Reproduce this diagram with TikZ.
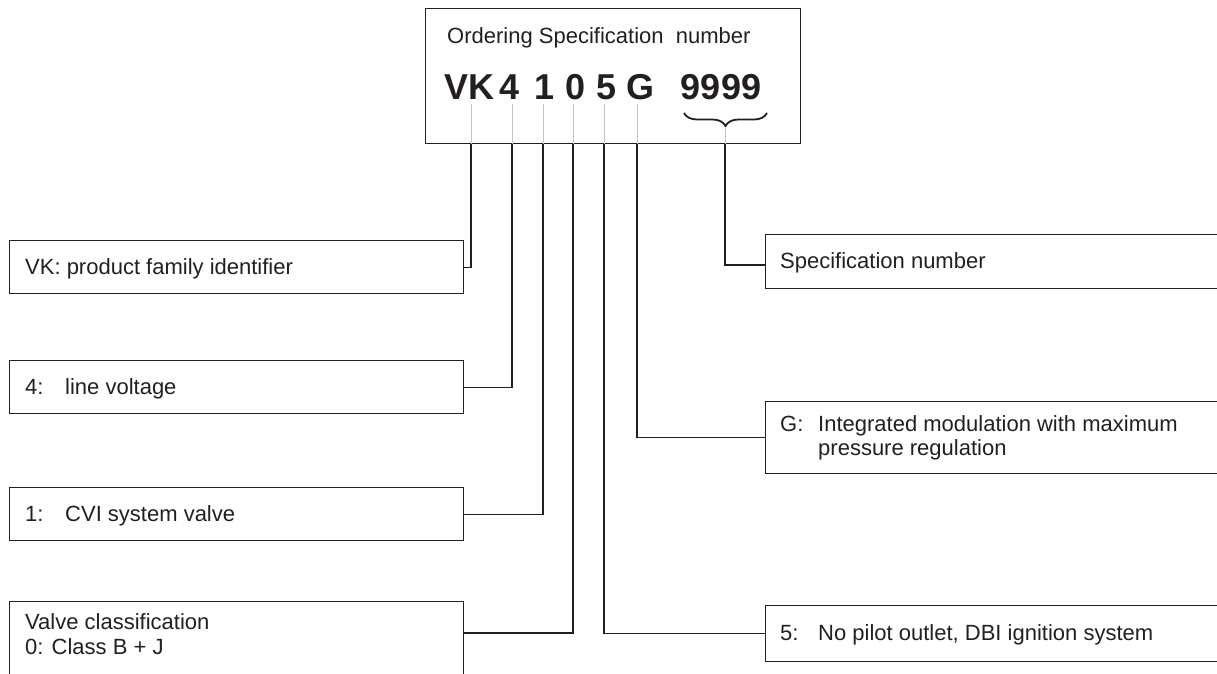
\documentclass[tikz,border=0pt]{standalone}
\usepackage{fontspec}
\setmainfont{Liberation Sans}
\usetikzlibrary{decorations.pathreplacing,calc}
\definecolor{ink}{HTML}{231F20}
\definecolor{leadc}{HTML}{C4C4C4}
\begin{document}
\begin{tikzpicture}[x=1pt,y=-1pt,
  box/.style={draw=ink, line width=1.3pt, inner sep=0pt, anchor=north west},
  lbl/.style={font=\fontsize{22}{26}\selectfont, text=ink, inner sep=0pt, anchor=base west},
  big/.style={font=\fontsize{36}{40}\selectfont\bfseries, text=ink, inner sep=0pt, anchor=base},
  leadline/.style={draw=leadc, line width=0.9pt},
  conn/.style={draw=ink, line width=1.3pt}]
\useasboundingbox (0,0) rectangle (1217,673);

% ordering specification box
\node[box, minimum width=375pt, minimum height=135pt] (top) at (425,8) {};
\node[lbl] (title) at (447,43) {Ordering Specification\ \ number};
\node[big] (cVK) at (469,99) {VK};
\node[big] (c4) at (510,99) {4};
\node[big] (c1) at (545,99) {1};
\node[big] (c0) at (576,99) {0};
\node[big] (c5) at (607,99) {5};
\node[big] (cG) at (640,99) {G};
\node[big] (c9) at (721,99) {9999};

\coordinate (pVK) at (471,104);
\coordinate (p4) at (512,104);
\coordinate (p1) at (543,104);
\coordinate (p0) at (573,104);
\coordinate (p5) at (604,104);
\coordinate (pG) at (637,104);
\coordinate (bl) at (684,113);
\coordinate (br) at (767,113);
\coordinate (p9) at (725,127);
\draw[ink, line width=1.8pt, decorate, decoration={brace, mirror, amplitude=13pt}] (bl) -- (br);
\foreach \p in {pVK,p4,p1,p0,p5,pG,p9} \draw[leadline] (\p) -- (\p |- top.south);

% left boxes
\node[box, minimum width=454pt, minimum height=53pt] (vk) at (9,240) {};
\node[lbl] (vkt) at (25,274) {VK: product family identifier};
\node[box, minimum width=454pt, minimum height=53pt] (four) at (9,360) {};
\node[lbl] (fourt) at (25,394) {\makebox[40pt][l]{4:}line voltage};
\node[box, minimum width=454pt, minimum height=53pt] (one) at (9,487) {};
\node[lbl] (onet) at (25,521) {\makebox[40pt][l]{1:}CVI system valve};
\node[box, minimum width=454pt, minimum height=100pt] (valve) at (9,601) {};
\node[lbl] (valvet1) at (25,629) {Valve classification};
\node[lbl] (valvet2) at (25,654) {0: Class B + J};

% right boxes
\node[box, minimum width=480pt, minimum height=54pt] (spec) at (765,234) {};
\node[lbl] (spect) at (780,268) {Specification number};
\node[box, minimum width=480pt, minimum height=72pt] (gbox) at (765,401) {};
\node[lbl] (gt1) at (780,431) {\makebox[38pt][l]{G:}Integrated modulation with maximum};
\node[lbl] (gt2) at (818,455) {pressure regulation};
\node[box, minimum width=480pt, minimum height=56pt] (five) at (765,605) {};
\node[lbl] (fivet) at (780,640) {\makebox[38pt][l]{5:}No pilot outlet, DBI ignition system};

% connectors
\draw[conn] (pVK |- top.south) |- (vk.east);
\draw[conn] (p4 |- top.south) |- (four.east);
\draw[conn] (p1 |- top.south) |- (one.east);
\draw[conn] (p0 |- top.south) |- ($(valve.north east)+(0,32)$);
\draw[conn] (p5 |- top.south) |- (five.west);
\draw[conn] (pG |- top.south) |- (gbox.west);
\draw[conn] (p9 |- top.south) |- ($(spec.north west)+(0,31)$);
\end{tikzpicture}
\end{document}
